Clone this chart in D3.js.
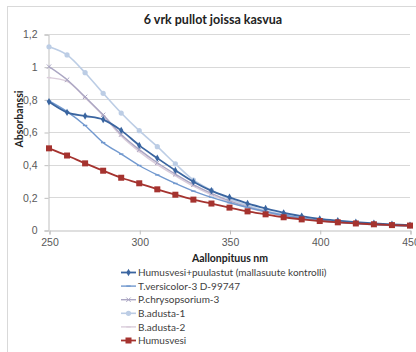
<!DOCTYPE html>
<html>
<head>
<meta charset="utf-8">
<script src="https://cdn.jsdelivr.net/npm/d3@7"></script>
<style>
    body { margin: 0; background: #fff; }
    svg { display: block; font-family: Lato, "Open Sans", "DejaVu Sans", sans-serif; }
</style>
</head>
<body>
<svg id="chart"></svg>
<script>
// Wavelengths (nm)
const wavelengths = [250, 260, 270, 280, 290, 300, 310, 320, 330, 340, 350,
    360, 370, 380, 390, 400, 410, 420, 430, 440, 450];

const seriesNames = [
    "Humusvesi+puulastut (mallasuute kontrolli)",
    "T.versicolor-3 D-99747",
    "P.chrysopsorium-3",
    "B.adusta-1",
    "B.adusta-2",
    "Humusvesi"
];

// Absorbance values
const humusPuulastut = [0.785, 0.72, 0.698, 0.676, 0.61, 0.518, 0.44, 0.365, 0.295, 0.24, 0.2,
    0.163, 0.132, 0.105, 0.085, 0.068, 0.057, 0.048, 0.041, 0.035, 0.03];
const tVersicolor = [0.79, 0.725, 0.64, 0.535, 0.465, 0.395, 0.337, 0.285, 0.238, 0.2, 0.167,
    0.138, 0.113, 0.09, 0.073, 0.06, 0.049, 0.041, 0.034, 0.029, 0.025];
const pChrysopsorium = [1.0, 0.92, 0.815, 0.705, 0.585, 0.492, 0.412, 0.342, 0.278, 0.224, 0.178,
    0.142, 0.112, 0.088, 0.07, 0.057, 0.047, 0.039, 0.033, 0.028, 0.025];
const bAdusta1 = [1.122, 1.072, 0.963, 0.837, 0.716, 0.608, 0.51, 0.405, 0.306, 0.243, 0.19,
    0.15, 0.118, 0.094, 0.075, 0.06, 0.05, 0.042, 0.035, 0.03, 0.026];
const bAdusta2 = [0.933, 0.91, 0.81, 0.7, 0.575, 0.48, 0.4, 0.332, 0.268, 0.215, 0.172,
    0.137, 0.108, 0.085, 0.068, 0.055, 0.045, 0.038, 0.032, 0.027, 0.023];
const humusvesi = [0.5, 0.456, 0.408, 0.363, 0.32, 0.286, 0.249, 0.216, 0.186, 0.162, 0.137,
    0.114, 0.096, 0.078, 0.065, 0.055, 0.047, 0.04, 0.035, 0.03, 0.027];

const yTicks = [0, 0.2, 0.4, 0.6, 0.8, 1, 1.2];
const xTicks = [250, 300, 350, 400, 450];

const seriesValues = [humusPuulastut, tVersicolor, pChrysopsorium, bAdusta1, bAdusta2, humusvesi];
const seriesColors = ["#3a65a0", "#7299cf", "#aba6c3", "#bccde5", "#dacddb", "#a5332f"];
const seriesMarkers = ["diamond", "dash", "cross", "circle", "dash", "square"];
const seriesWidths = [1.8, 1.4, 1.4, 1.6, 1.4, 1.8];

const width = 416;
const height = 352;

const svg = d3.select("#chart")
    .attr("width", width)
    .attr("height", height);

// Outer chart frame
svg.append("rect")
    .attr("x", 7.5).attr("y", 6.5)
    .attr("width", 420).attr("height", 360)
    .attr("fill", "#fff")
    .attr("stroke", "#d9d9d9");

const x = d3.scaleLinear().domain([250, 450]).range([49, 410]);
const y = d3.scaleLinear().domain([0, 1.2]).range([230, 34]);

const fmt = d => String(d).replace(".", ",");

// Gridlines
svg.append("g")
    .selectAll("line")
    .data(yTicks.slice(1))
    .join("line")
    .attr("x1", x(250)).attr("x2", x(450))
    .attr("y1", d => Math.round(y(d)) + 0.5)
    .attr("y2", d => Math.round(y(d)) + 0.5)
    .attr("stroke", "#d9d9d9");

// Y axis
const yAxis = svg.append("g")
    .attr("transform", `translate(${x(250) - 0.5},0.5)`)
    .call(d3.axisLeft(y).tickValues(yTicks).tickFormat(fmt).tickSize(4).tickPadding(7));
yAxis.select(".domain").attr("stroke", "#bfbfbf");
yAxis.selectAll(".tick line").attr("stroke", "#bfbfbf");
yAxis.selectAll("text").attr("fill", "#595959").attr("font-size", 10.5);

// X axis
const xAxis = svg.append("g")
    .attr("transform", `translate(0.5,${y(0) + 0.5})`)
    .call(d3.axisBottom(x).tickValues(xTicks).tickSize(4).tickPadding(4));
xAxis.select(".domain").attr("stroke", "#bfbfbf");
xAxis.selectAll(".tick line").attr("stroke", "#bfbfbf");
xAxis.selectAll("text").attr("fill", "#595959").attr("font-size", 10.5);

// Titles
svg.append("text")
    .attr("x", 213).attr("y", 24)
    .attr("text-anchor", "middle")
    .attr("font-weight", "bold")
    .attr("font-size", 12.5)
    .attr("fill", "#222")
    .text("6 vrk pullot joissa kasvua");

svg.append("text")
    .attr("x", 230).attr("y", 262)
    .attr("text-anchor", "middle")
    .attr("font-weight", "bold")
    .attr("font-size", 10.5)
    .attr("fill", "#222")
    .text("Aallonpituus nm");

svg.append("text")
    .attr("transform", "translate(23,119) rotate(-90)")
    .attr("text-anchor", "middle")
    .attr("font-weight", "bold")
    .attr("font-size", 10.5)
    .attr("fill", "#222")
    .text("Absorbanssi");

function drawMarker(g, type, color, cx, cy) {
    if (type === "diamond") {
        g.append("path")
            .attr("d", d3.symbol(d3.symbolDiamond, 16)())
            .attr("transform", `translate(${cx},${cy})`)
            .attr("fill", color);
    } else if (type === "square") {
        g.append("rect")
            .attr("x", cx - 3).attr("y", cy - 3)
            .attr("width", 6).attr("height", 6)
            .attr("fill", color);
    } else if (type === "circle") {
        g.append("circle")
            .attr("cx", cx).attr("cy", cy).attr("r", 2.6)
            .attr("fill", color);
    } else if (type === "cross") {
        g.append("path")
            .attr("d", `M${cx - 2.2},${cy - 2.2}L${cx + 2.2},${cy + 2.2}M${cx - 2.2},${cy + 2.2}L${cx + 2.2},${cy - 2.2}`)
            .attr("stroke", color).attr("stroke-width", 1);
    } else {
        g.append("path")
            .attr("d", `M${cx - 2.2},${cy}L${cx + 2.2},${cy}`)
            .attr("stroke", color).attr("stroke-width", 1.4);
    }
}

const line = d3.line()
    .x((d, i) => x(wavelengths[i]))
    .y(d => y(d))
    .curve(d3.curveMonotoneX);

// Draw series, lightest first so the darker ones sit on top
const drawOrder = [4, 3, 2, 1, 0, 5];
drawOrder.forEach(function (s) {
    const g = svg.append("g");
    g.append("path")
        .datum(seriesValues[s])
        .attr("d", line)
        .attr("fill", "none")
        .attr("stroke", seriesColors[s])
        .attr("stroke-width", seriesWidths[s]);
    seriesValues[s].forEach(function (v, i) {
        drawMarker(g, seriesMarkers[s], seriesColors[s], x(wavelengths[i]), y(v));
    });
});

// Legend
const legend = svg.append("g");
seriesNames.forEach(function (name, i) {
    const ly = 272.5 + i * 13.6;
    legend.append("line")
        .attr("x1", 121).attr("x2", 136)
        .attr("y1", ly).attr("y2", ly)
        .attr("stroke", seriesColors[i])
        .attr("stroke-width", seriesWidths[i]);
    drawMarker(legend, seriesMarkers[i], seriesColors[i], 128.5, ly);
    legend.append("text")
        .attr("x", 138).attr("y", ly + 3.6)
        .attr("font-size", 10)
        .attr("fill", "#404040")
        .text(name);
});
</script>
</body>
</html>
